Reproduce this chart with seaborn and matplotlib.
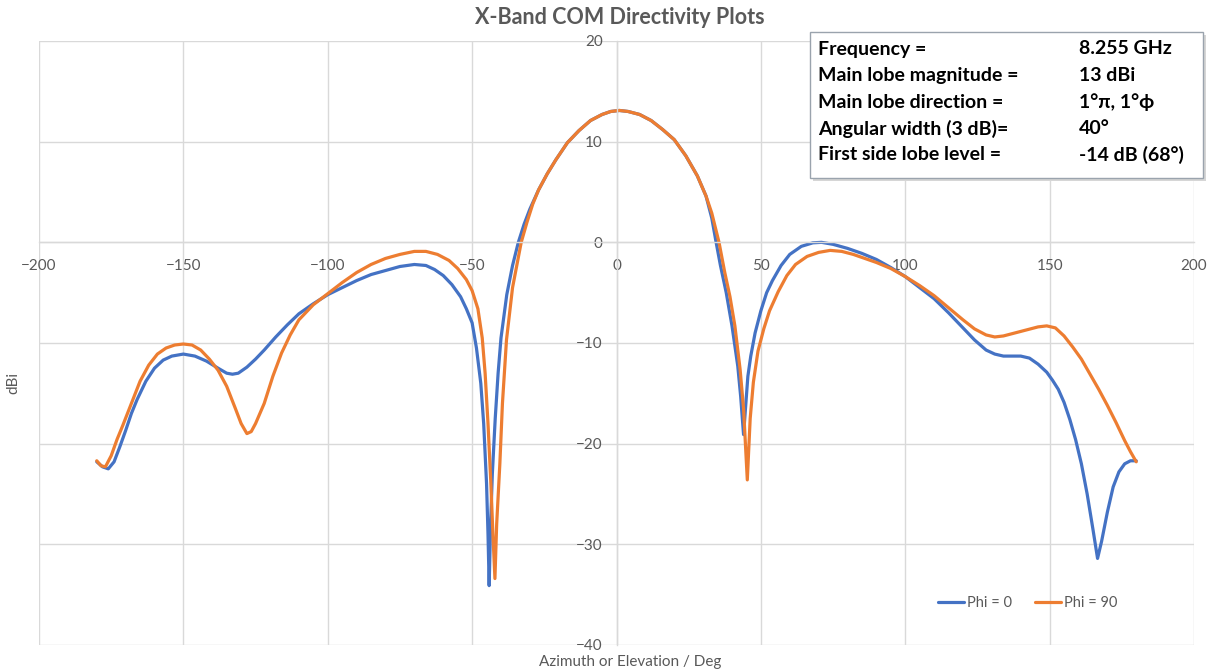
import matplotlib
matplotlib.use("Agg")
import matplotlib.pyplot as plt
import seaborn as sns
import pandas as pd
from matplotlib.patches import Rectangle

# values (angle in deg, directivity in dBi)
phi0_angle = [-180, -178, -176, -174, -172, -170, -168, -166, -163, -160, -157, -154,
              -150, -146, -142, -138, -135, -133, -131, -128, -125, -122, -118, -114,
              -110, -105, -100, -95, -90, -85, -80, -75, -70, -66, -63, -60, -57, -54,
              -52, -50, -48.5, -47, -46, -45, -44.5, -44.1, -43.6, -43, -42, -41, -40,
              -38, -36, -34, -32, -30, -27, -24, -21, -17, -13, -9, -5, -2, 1, 4, 8,
              12, 16, 20, 24, 28, 31, 33, 34.5, 36, 38, 40, 42, 43, 44, 44.8, 45.5,
              46.5, 48, 50, 52, 54, 57, 60, 64, 68, 71, 75, 80, 85, 90, 95, 100, 105,
              110, 115, 120, 124, 128, 131, 134, 137, 140, 143, 146, 149, 151, 153,
              155, 157, 159, 161, 163, 165, 166.6, 168, 170, 172, 174, 176, 178, 180]
phi0_dbi = [-21.8, -22.3, -22.5, -21.8, -20.3, -18.7, -17.0, -15.6, -13.8, -12.5, -11.7, -11.3,
            -11.1, -11.3, -11.8, -12.5, -13.0, -13.1, -13.0, -12.4, -11.6, -10.7, -9.4, -8.2,
            -7.1, -6.1, -5.2, -4.5, -3.8, -3.2, -2.8, -2.4, -2.2, -2.3, -2.7, -3.3, -4.2, -5.4,
            -6.6, -8.0, -10.5, -14.0, -18.0, -24.0, -29.0, -34.1, -28.0, -23.0, -17.5, -13.0, -9.5,
            -5.2, -2.3, 0.0, 1.8, 3.3, 5.2, 6.8, 8.2, 9.9, 11.1, 12.1, 12.7, 13.0, 13.1, 13.0, 12.7,
            12.1, 11.2, 10.2, 8.6, 6.6, 4.6, 2.4, 0.0, -2.3, -5.0, -8.3, -12.3, -15.3, -19.1, -16.0, -13.3,
            -11.3, -9.0, -6.8, -5.0, -3.8, -2.3, -1.2, -0.4, -0.05, 0.0, -0.2, -0.6, -1.1, -1.7, -2.5, -3.4, -4.5,
            -5.6, -7.0, -8.5, -9.7, -10.7, -11.1, -11.3, -11.3, -11.3, -11.5, -12.1, -12.9, -13.7, -14.6,
            -15.9, -17.6, -19.6, -22.0, -25.0, -28.5, -31.4, -29.7, -26.8, -24.3, -22.8, -22.0, -21.7, -21.7]

phi90_angle = [-180, -178.5, -177, -175, -173, -171, -168, -165, -162, -159, -156, -153,
               -150, -147, -144, -141, -138, -135, -132, -130, -128, -126.5, -125, -122,
               -119, -116, -113, -110, -105, -100, -95, -90, -85, -80, -75, -70, -66, -62,
               -58, -55, -52, -50, -48, -46.5, -45.5, -44.5, -43.5, -42.8, -42.1, -41.5,
               -40.4, -39.5, -38.1, -36, -34, -33, -31, -29, -27, -24, -21, -17, -13, -9,
               -5, -2, 1, 4, 8, 12, 16, 20, 24, 28, 31, 33, 35.5, 37.5, 39.3, 41, 42.8,
               44, 45.3, 46.3, 47.4, 49, 51, 53, 56, 59, 62, 66, 70, 74, 78, 82, 86, 90,
               95, 100, 105, 110, 115, 120, 124, 128, 131, 134, 138, 142, 146, 149, 152,
               155, 158, 161, 164, 167, 170, 173, 176, 178, 180]
phi90_dbi = [-21.7, -22.2, -22.3, -21.2, -19.6, -18.2, -16.0, -13.8, -12.2, -11.1, -10.5, -10.2,
             -10.1, -10.2, -10.7, -11.6, -12.7, -14.3, -16.5, -18.0, -19.0, -18.8, -18.0, -16.0,
             -13.3, -11.0, -9.2, -7.7, -6.2, -5.1, -4.0, -3.0, -2.2, -1.6, -1.2, -0.9, -0.9, -1.2,
             -1.8, -2.6, -3.7, -4.8, -6.6, -9.5, -13.0, -18.0, -24.0, -29.0, -33.4, -28.0,
             -22.0, -16.0, -9.7, -4.5, -1.5, 0.0, 2.0, 3.8, 5.2, 6.8, 8.2, 9.9, 11.1, 12.1,
             12.7, 13.0, 13.1, 13.0, 12.7, 12.1, 11.2, 10.2, 8.6, 6.6, 4.6, 2.9, 0.0, -3.0, -5.4, -8.3, -12.6,
             -16.5, -23.6, -17.5, -13.9, -10.8, -8.6, -6.8, -4.9, -3.3, -2.2, -1.4, -1.0, -0.8, -0.9, -1.2, -1.6, -2.0,
             -2.6, -3.4, -4.3, -5.3, -6.5, -7.7, -8.6, -9.2, -9.4, -9.3, -9.0, -8.7, -8.4, -8.3, -8.5,
             -9.3, -10.4, -11.6, -13.1, -14.6, -16.2, -17.9, -19.7, -20.8, -21.8]

series_names = ["Phi = 0", "Phi = 90"]
series_colors = ["#4472C4", "#ED7D31"]

x_ticks = list(range(-200, 201, 50))
y_ticks = list(range(-40, 21, 10))

info_labels = ["Frequency =", "Main lobe magnitude =", "Main lobe direction =",
               "Angular width (3 dB)=", "First side lobe level ="]
info_values = ["8.255 GHz", "13 dBi", "1°π, 1°ϕ", "40°", "-14 dB (68°)"]

sns.set_style("white")
plt.rcParams['font.family'] = ['Lato', 'DejaVu Sans']

df = pd.concat([
    pd.DataFrame({"angle": phi0_angle, "dbi": phi0_dbi, "series": series_names[0]}),
    pd.DataFrame({"angle": phi90_angle, "dbi": phi90_dbi, "series": series_names[1]}),
])

W, H = 1215, 672
fig = plt.figure(figsize=(W / 100, H / 100), dpi=100)
ax = fig.add_axes([39 / W, 1 - 645 / H, 1155 / W, 604 / H])

sns.lineplot(data=df, x="angle", y="dbi", hue="series", hue_order=series_names,
             palette=series_colors, sort=False, estimator=None, linewidth=2.3, ax=ax)
for line in ax.lines:
    line.set_solid_joinstyle("round")

ax.set_xlim(-200, 200)
ax.set_ylim(-40, 20)
ax.set_xticks(x_ticks)
ax.set_yticks(y_ticks)
ax.set_xlabel("")
ax.set_ylabel("")
ax.grid(True, color="#d9d9d9", linewidth=1)
ax.set_axisbelow(True)

# excel style: axes cross at zero
ax.spines["left"].set_position(("data", 0))
ax.spines["bottom"].set_position(("data", 0))
for s in ["left", "bottom"]:
    ax.spines[s].set_color("#d9d9d9")
    ax.spines[s].set_linewidth(1)
ax.spines["top"].set_visible(False)
ax.spines["right"].set_visible(False)
ax.tick_params(axis="both", length=0, labelcolor="#595959", labelsize=11)
ax.tick_params(axis="x", pad=12)
ax.tick_params(axis="y", pad=10)

handles, labels = ax.get_legend_handles_labels()
ax.legend(handles, labels, loc="center", bbox_to_anchor=(0.856, 0.07), ncol=2,
          frameon=False, fontsize=10.5, labelcolor="#595959", handlelength=1.8,
          handletextpad=0.2, columnspacing=1.6)

fig.text(620 / W, 1 - 18 / H, "X-Band COM Directivity Plots", ha="center", va="center",
         fontsize=15.5, fontweight="bold", color="#595959")
fig.text(630 / W, 1 - 662 / H, "Azimuth or Elevation / Deg", ha="center", va="center",
         fontsize=11, color="#595959")
fig.text(13 / W, 1 - 383 / H, "dBi", ha="center", va="center", rotation=90,
         fontsize=11, color="#595959")

# info box
fig.patches.append(Rectangle((813 / W, 1 - 181 / H), 393 / W, 146 / H, transform=fig.transFigure,
                             facecolor="#d6d6d6", edgecolor="none", zorder=4))
fig.patches.append(Rectangle((810 / W, 1 - 178 / H), 393 / W, 146 / H, transform=fig.transFigure,
                             facecolor="white", edgecolor="#9aa3ad", linewidth=1, zorder=5))
for i, (lab, val) in enumerate(zip(info_labels, info_values)):
    yy = 1 - (49 + i * 26.5) / H
    fig.text(818 / W, yy, lab, ha="left", va="center", fontsize=14, fontweight="bold",
             color="black", zorder=6)
    fig.text(1079 / W, yy, val, ha="left", va="center", fontsize=14, fontweight="bold",
             color="black", zorder=6)

fig.savefig("out.png", dpi=100)
